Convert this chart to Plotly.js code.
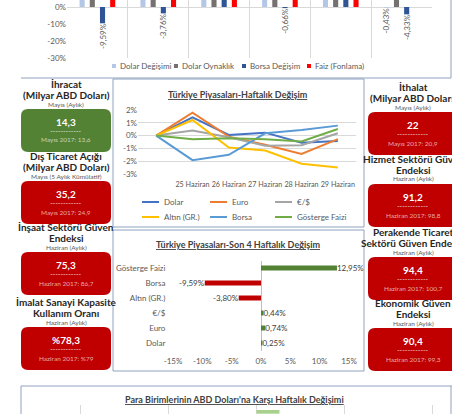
<!DOCTYPE html>
<html><head><meta charset="utf-8">
<script src="https://cdn.plot.ly/plotly-3.0.1.min.js"></script>
<style>html,body{margin:0;padding:0;background:#fff;}#chart{width:452px;height:414px;}</style>
</head><body><div id="chart"></div>
<script>
// ---------- Üst grafik (kesik) ----------
const donemler = ["Dönem 1","Dönem 2","Dönem 3","Dönem 4","Dönem 5","Dönem 6"];
const dolarDegisimi = [5.2, 6.1, 4.8, 7.3, 5.5, -0.43];
const dolarOynaklik = [14.2, 12.8, 11.5, 13.1, 10.9, 9.7];
const borsaDegisim  = [-9.59, -3.76, 6.2, -0.66, 5.4, -4.33];
const faizFonlama   = [8.0, 8.0, 8.0, 8.0, 8.0, null];
const ustSeriAdlari = ["Dolar Değişimi","Dolar Oynaklık","Borsa Değişim","Faiz (Fonlama)"];
const ustRenkler = ["#B4C7E7","#767171","#2F5597","#FF0000"];
const ustYTick = [0,-10,-20,-30];
const ustYText = ["0%","-10%","-20%","-30%"];

// ---------- Haftalık değişim (çizgi) ----------
const gunler = ["", "25 Haziran","26 Haziran","27 Haziran","28 Haziran","29 Haziran"];
const dolar   = [0, 1.42, 0.05, 0.23, -0.55, -0.42];
const euro    = [0, 1.79, -0.08, -0.72, -1.43, -0.28];
const euroDolar = [0, 0.39, -0.13, -0.80, -0.75, 0.18];
const altin   = [0, 1.22, -0.93, -1.17, -2.20, -2.49];
const borsa   = [0, -1.92, -1.50, 0.18, 0.44, 0.78];
const gosterge = [0, -0.28, -0.20, -0.28, -0.46, 0.52];
const cizgiAdlari = ["Dolar","Euro","€/$","Altın (GR.)","Borsa","Gösterge Faizi"];
const cizgiRenkler = ["#4472C4","#ED7D31","#A5A5A5","#FFC000","#5B9BD5","#70AD47"];
const cizgiYTick = [2,1,0,-1,-2,-3];
const cizgiYText = ["2%","1%","0%","-1%","-2%","-3%"];

// ---------- Son 4 hafta (yatay çubuk) ----------
const kategoriler = ["Dolar","Euro","€/$","Altın (GR.)","Borsa","Gösterge Faizi"];
const degisim4 = [0.25, 0.74, 0.44, -3.80, -9.59, 12.95];
const cubukXTick = [-15,-10,-5,0,5,10,15];
const cubukXText = ["-15%","-10%","-5%","0%","5%","10%","15%"];

// ---------- Para birimleri (kesik) ----------
const paraBirimleri = ["Euro"];
const paraDegisim = [0.26];

// ---------- Gösterge kartları ----------
const solBaslik = [["İhracat","(Milyar ABD Doları)"],["Dış Ticaret Açığı","(Milyar ABD Doları)"],["İnşaat Sektörü Güven","Endeksi"],["İmalat Sanayi Kapasite","Kullanım Oranı"]];
const solDonem = ["Mayıs (Aylık)","Mayıs (5 Aylık Kümülatif)","Haziran (Aylık)","Haziran (Aylık)"];
const solDeger = ["14,3","35,2","75,3","%78,3"];
const solOnceki = ["Mayıs 2017: 13,6","Mayıs 2017: 24,9","Haziran 2017: 86,7","Haziran 2017: %79"];
const solRenk = ["#548235","#C00000","#C00000","#C00000"];
const sagBaslik = [["İthalat","(Milyar ABD Doları)"],["Hizmet Sektörü Güven","Endeksi"],["Perakende Ticaret","Sektörü Güven Endeksi"],["Ekonomik Güven","Endeksi"]];
const sagDonem = ["Mayıs (Aylık)","Haziran (Aylık)","Haziran (Aylık)","Haziran (Aylık)"];
const sagDeger = ["22","91,2","94,4","90,4"];
const sagOnceki = ["Mayıs 2017: 20,9","Haziran 2017: 98,8","Haziran 2017: 100,7","Haziran 2017: 99,3"];
const sagRenk = ["#C00000","#C00000","#C00000","#C00000"];

// ================= layout helpers =================
const W = 452, H = 414;
const FONT = "Lato, 'DejaVu Sans', sans-serif";
const fx = p => p / W;
const fy = p => 1 - p / H;
const fmt = v => v.toFixed(2).replace('.', ',') + '%';

const shapes = [];
const annotations = [];
function line(x0,y0,x1,y1,color,width){
  shapes.push({type:'line', xref:'paper', yref:'paper', x0:fx(x0), y0:fy(y0), x1:fx(x1), y1:fy(y1), line:{color:color, width:width||1}});
}
function rect(x0,y0,x1,y1,color){
  shapes.push({type:'rect', xref:'paper', yref:'paper', x0:fx(x0), y0:fy(y0), x1:fx(x1), y1:fy(y1), fillcolor:color, line:{width:0}});
}
function roundRect(x0,y0,x1,y1,r,color){
  const X = p => fx(p).toFixed(5), Y = p => fy(p).toFixed(5);
  const path = `M${X(x0+r)},${Y(y0)} L${X(x1-r)},${Y(y0)} Q${X(x1)},${Y(y0)} ${X(x1)},${Y(y0+r)} L${X(x1)},${Y(y1-r)} Q${X(x1)},${Y(y1)} ${X(x1-r)},${Y(y1)} L${X(x0+r)},${Y(y1)} Q${X(x0)},${Y(y1)} ${X(x0)},${Y(y1-r)} L${X(x0)},${Y(y0+r)} Q${X(x0)},${Y(y0)} ${X(x0+r)},${Y(y0)} Z`;
  shapes.push({type:'path', xref:'paper', yref:'paper', path:path, fillcolor:color, line:{width:0}, layer:'below'});
}
function ann(text,x,y,size,color,anchor){
  annotations.push({text:text, xref:'paper', yref:'paper', x:fx(x), y:fy(y), xanchor:anchor||'center', yanchor:'middle', showarrow:false, font:{family:FONT, size:size, color:color}});
}

// kutu çerçeveleri
const BORDER = "#8EA2BF";
line(21,78,451,78,BORDER,1);
line(451,0,451,78,BORDER,1);
line(113,79,364,79,BORDER,1); line(113,227,364,227,BORDER,1);
line(113,79,113,227,BORDER,1); line(364,79,364,227,BORDER,1);
line(113,230,364,230,BORDER,1); line(113,371,364,371,BORDER,1);
line(113,230,113,371,BORDER,1); line(364,230,364,371,BORDER,1);
line(21,386,452,386,BORDER,1); line(21,386,21,414,BORDER,1); line(451,386,451,414,BORDER,1);

// üst grafik lejantı
const ustLejX = [112,174,242,307];
ustSeriAdlari.forEach((ad,i)=>{
  rect(ustLejX[i],64,ustLejX[i]+4,68,ustRenkler[i]);
  ann(ad, ustLejX[i]+6, 66, 8, '#595959', 'left');
});

// başlıklar
ann('<b><u>Türkiye Piyasaları-Haftalık Değişim</u></b>', 238, 94, 9, '#404040');
ann('<b><u>Türkiye Piyasaları-Son 4 Haftalık Değişim</u></b>', 238, 245, 9, '#404040');
ann('<b><u>Para Birimlerinin ABD Doları\'na Karşı Haftalık Değişimi</u></b>', 234, 399, 9, '#404040');

// çizgi grafik lejantı
const lejKolX = [142,210,275];
const lejSatirY = [202,217];
cizgiAdlari.forEach((ad,i)=>{
  const kx = lejKolX[i%3], ky = lejSatirY[Math.floor(i/3)];
  line(kx,ky,kx+17,ky,cizgiRenkler[i],2);
  ann(ad, kx+20, ky, 8, '#595959', 'left');
});

// kartlar
const solUst = [109,181,252,327];
const sagUst = [112,184,257,328];
function kartlar(basliklar, donemler_, degerler, onceki, renkler, ustler, x0, x1){
  const cx = (x0+x1)/2;
  ustler.forEach((t,i)=>{
    roundRect(x0,t,x1,t+43,7,renkler[i]);
    ann('<b>'+basliklar[i][0]+'</b>', cx, t-25, 10, '#262626');
    ann('<b>'+basliklar[i][1]+'</b>', cx, t-14, 10, '#262626');
    ann(donemler_[i], cx, t-5, 6.5, '#595959');
    ann('<b>'+degerler[i]+'</b>', cx, t+13, 10, '#FFFFFF');
    ann('------------', cx, t+22, 7, 'rgba(255,255,255,0.8)');
    ann(onceki[i], cx, t+31, 6.5, 'rgba(255,255,255,0.65)');
  });
}
kartlar(solBaslik, solDonem, solDeger, solOnceki, solRenk, solUst, 21, 111);
kartlar(sagBaslik, sagDonem, sagDeger, sagOnceki, sagRenk, sagUst, 368, 458);

// ================= traces =================
const traces = [];
[dolarDegisimi, dolarOynaklik, borsaDegisim, faizFonlama].forEach((seri,i)=>{
  traces.push({type:'bar', x:donemler, y:seri, name:ustSeriAdlari[i], xaxis:'x', yaxis:'y',
    marker:{color:ustRenkler[i]}, showlegend:false,
    text: seri.map(v => (v!==null && v<0) ? fmt(v) : ''),
    textposition:'outside', textangle:-90, constraintext:'none',
    textfont:{family:FONT, size:8, color:'#595959'}, hoverinfo:'none'});
});
const gunIndeks = gunler.map((_,i)=>i);
[dolar, euro, euroDolar, altin, borsa, gosterge].forEach((seri,i)=>{
  traces.push({type:'scatter', mode:'lines', x:gunIndeks, y:seri, name:cizgiAdlari[i], xaxis:'x2', yaxis:'y2',
    line:{color:cizgiRenkler[i], width:2}, showlegend:false, hoverinfo:'none'});
});
traces.push({type:'bar', orientation:'h', y:kategoriler, x:degisim4, xaxis:'x3', yaxis:'y3',
  marker:{color: degisim4.map(v => v>=0 ? '#548235' : '#C00000')},
  text: degisim4.map(fmt), textposition:'outside', constraintext:'none', cliponaxis:false,
  textfont:{family:FONT, size:8, color:'#404040'}, showlegend:false, hoverinfo:'none'});
traces.push({type:'bar', orientation:'h', y:paraBirimleri, x:paraDegisim, base:0, width:0.34, xaxis:'x4', yaxis:'y4',
  marker:{color:'#A9D18E'}, showlegend:false, hoverinfo:'none'});

const tickFont = {family:FONT, size:8, color:'#595959'};
const layout = {
  width:W, height:H, margin:{l:0,r:0,t:0,b:0},
  paper_bgcolor:'#FFFFFF', plot_bgcolor:'rgba(0,0,0,0)',
  font:{family:FONT}, separators:',.',
  barmode:'group', bargap:0.33, bargroupgap:0.5, showlegend:false,
  shapes:shapes, annotations:annotations,
  xaxis:{domain:[fx(67),fx(432)], type:'category', anchor:'y', showgrid:true, gridcolor:'#D9D9D9', tickson:'boundaries',
    showticklabels:false, ticks:'', zeroline:false, showline:false, fixedrange:true},
  yaxis:{domain:[fy(58),1], range:[-30,4.12], anchor:'x', tickvals:ustYTick, ticktext:ustYText, showgrid:false,
    zeroline:true, zerolinecolor:'#D9D9D9', zerolinewidth:1, tickfont:tickFont, ticks:'', fixedrange:true},
  xaxis2:{domain:[fx(138),fx(356)], range:[-0.5,5.5], anchor:'y2', tickvals:gunIndeks.slice(1), ticktext:gunler.slice(1),
    showgrid:false, zeroline:false, showline:false, tickfont:{family:FONT, size:7.2, color:'#595959'}, ticks:'outside', ticklen:3, tickcolor:'rgba(0,0,0,0)', tickangle:0},
  yaxis2:{domain:[fy(174.3),fy(109.7)], range:[-3.025,2.025], anchor:'x2', tickvals:cizgiYTick, ticktext:cizgiYText,
    showgrid:true, gridcolor:'#D9D9D9', zeroline:false, tickfont:tickFont, ticks:''},
  xaxis3:{domain:[fx(173),fx(349)], range:[-15,15], anchor:'y3', tickvals:cubukXTick, ticktext:cubukXText,
    showgrid:false, zeroline:true, zerolinecolor:'#BFBFBF', zerolinewidth:1, tickfont:tickFont, ticks:'outside', ticklen:3, tickcolor:'rgba(0,0,0,0)'},
  yaxis3:{domain:[fy(350.5),fy(260.5)], type:'category', range:[-0.5,5.5], anchor:'x3', showgrid:false, zeroline:false,
    tickfont:tickFont, ticks:'outside', ticklen:5, tickcolor:'rgba(0,0,0,0)'},
  xaxis4:{domain:[fx(79),fx(434)], range:[-2.012,2.012], dtick:1, anchor:'y4', showgrid:true, gridcolor:'#D9D9D9',
    showticklabels:false, zeroline:false, ticks:''},
  yaxis4:{domain:[0,fy(405)], type:'category', range:[-0.2,0.632], anchor:'x4', showgrid:false, zeroline:false, showticklabels:false, ticks:''}
};
Plotly.newPlot('chart', traces, layout, {staticPlot:true, displayModeBar:false});
</script>
</body></html>
